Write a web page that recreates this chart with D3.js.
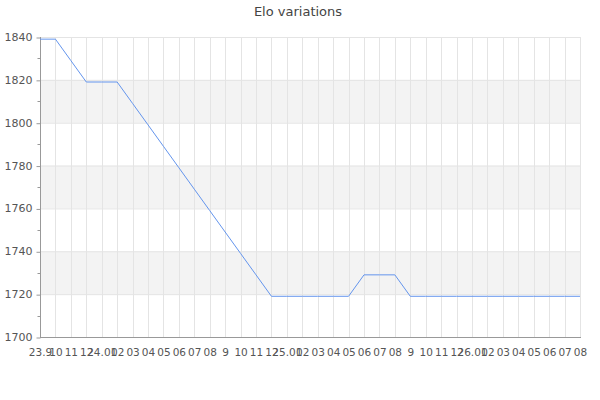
<!DOCTYPE html>
<html><head><meta charset="utf-8">
<script src="https://cdn.jsdelivr.net/npm/d3@7"></script>
<style>body{margin:0;background:#fff}svg{display:block;font-family:"DejaVu Sans",sans-serif}</style>
</head><body><svg id="c" width="600" height="400"></svg>
<script>
const months = ["23.9","10","11","12","24.01","02","03","04","05","06","07","08","9","10","11","12","25.01","02","03","04","05","06","07","08","9","10","11","12","26.01","02","03","04","05","06","07","08"];
const elo = [1839,1839,1829,1819,1819,1819,1809,1799,1789,1779,1769,1759,1749,1739,1729,1719,1719,1719,1719,1719,1719,1729,1729,1729,1719,1719,1719,1719,1719,1719,1719,1719,1719,1719,1719,1719];
const yTicks = [1700,1720,1740,1760,1780,1800,1820,1840];
const yMinor = [1710,1730,1750,1770,1790,1810,1830];
const bands = [[1720,1740],[1760,1780],[1800,1820]];
const title = "Elo variations";

const svg = d3.select("#c");
const L=40,R=580,T=37,B=337;
const x = d3.scaleLinear().domain([0,months.length-1]).range([L,R]);
const y = d3.scaleLinear().domain([1700,1840]).range([B,T]);

svg.append("text").attr("x",298).attr("y",16).attr("text-anchor","middle")
  .attr("font-size",13).attr("fill","#444").text(title);

svg.selectAll("rect.band").data(bands).join("rect")
  .attr("x",L).attr("width",R-L).attr("y",d=>y(d[1])).attr("height",d=>y(d[0])-y(d[1]))
  .attr("fill","#f3f3f3");

svg.selectAll("line.hg").data(yTicks).join("line")
  .attr("x1",L).attr("x2",R).attr("y1",d=>y(d)+0.5).attr("y2",d=>y(d)+0.5)
  .attr("stroke","#e4e4e4");
svg.selectAll("line.vg").data(months.map((m,i)=>i)).join("line")
  .attr("x1",d=>Math.round(x(d))+0.5).attr("x2",d=>Math.round(x(d))+0.5).attr("y1",T).attr("y2",B)
  .attr("stroke","#e4e4e4");

// y axis
const ya = svg.append("g").attr("transform",`translate(${L+0.5},0)`)
  .call(d3.axisLeft(y).tickValues(yTicks).tickSize(4).tickPadding(4).tickFormat(d3.format("d")));
ya.select(".domain").remove();
ya.selectAll("line").attr("stroke","#999").attr("transform","translate(0,0.5)");
ya.selectAll("text").attr("font-size",11).attr("fill","#555").attr("font-family","DejaVu Sans");
svg.selectAll("line.ym").data(yMinor).join("line")
  .attr("x1",L-2.5).attr("x2",L).attr("y1",d=>Math.round(y(d))+0.5).attr("y2",d=>Math.round(y(d))+0.5)
  .attr("stroke","#999");
svg.append("line").attr("x1",L+0.5).attr("x2",L+0.5).attr("y1",T).attr("y2",B+1).attr("stroke","#999");

// x axis
const xa = svg.append("g").attr("transform",`translate(0,${B+0.5})`)
  .call(d3.axisBottom(x).tickValues(months.map((m,i)=>i)).tickSize(0).tickPadding(11).tickFormat(i=>months[i]));
xa.select(".domain").remove();
xa.selectAll("text").attr("font-size",10.5).attr("fill","#555").attr("font-family","DejaVu Sans");
svg.append("line").attr("x1",L).attr("x2",R+1).attr("y1",B+0.5).attr("y2",B+0.5).attr("stroke","#999");

const line = d3.line().x((d,i)=>x(i)).y(d=>y(d));
svg.append("path").datum(elo).attr("d",line).attr("fill","none")
  .attr("stroke","#6495ed").attr("stroke-width",1);
</script></body></html>
